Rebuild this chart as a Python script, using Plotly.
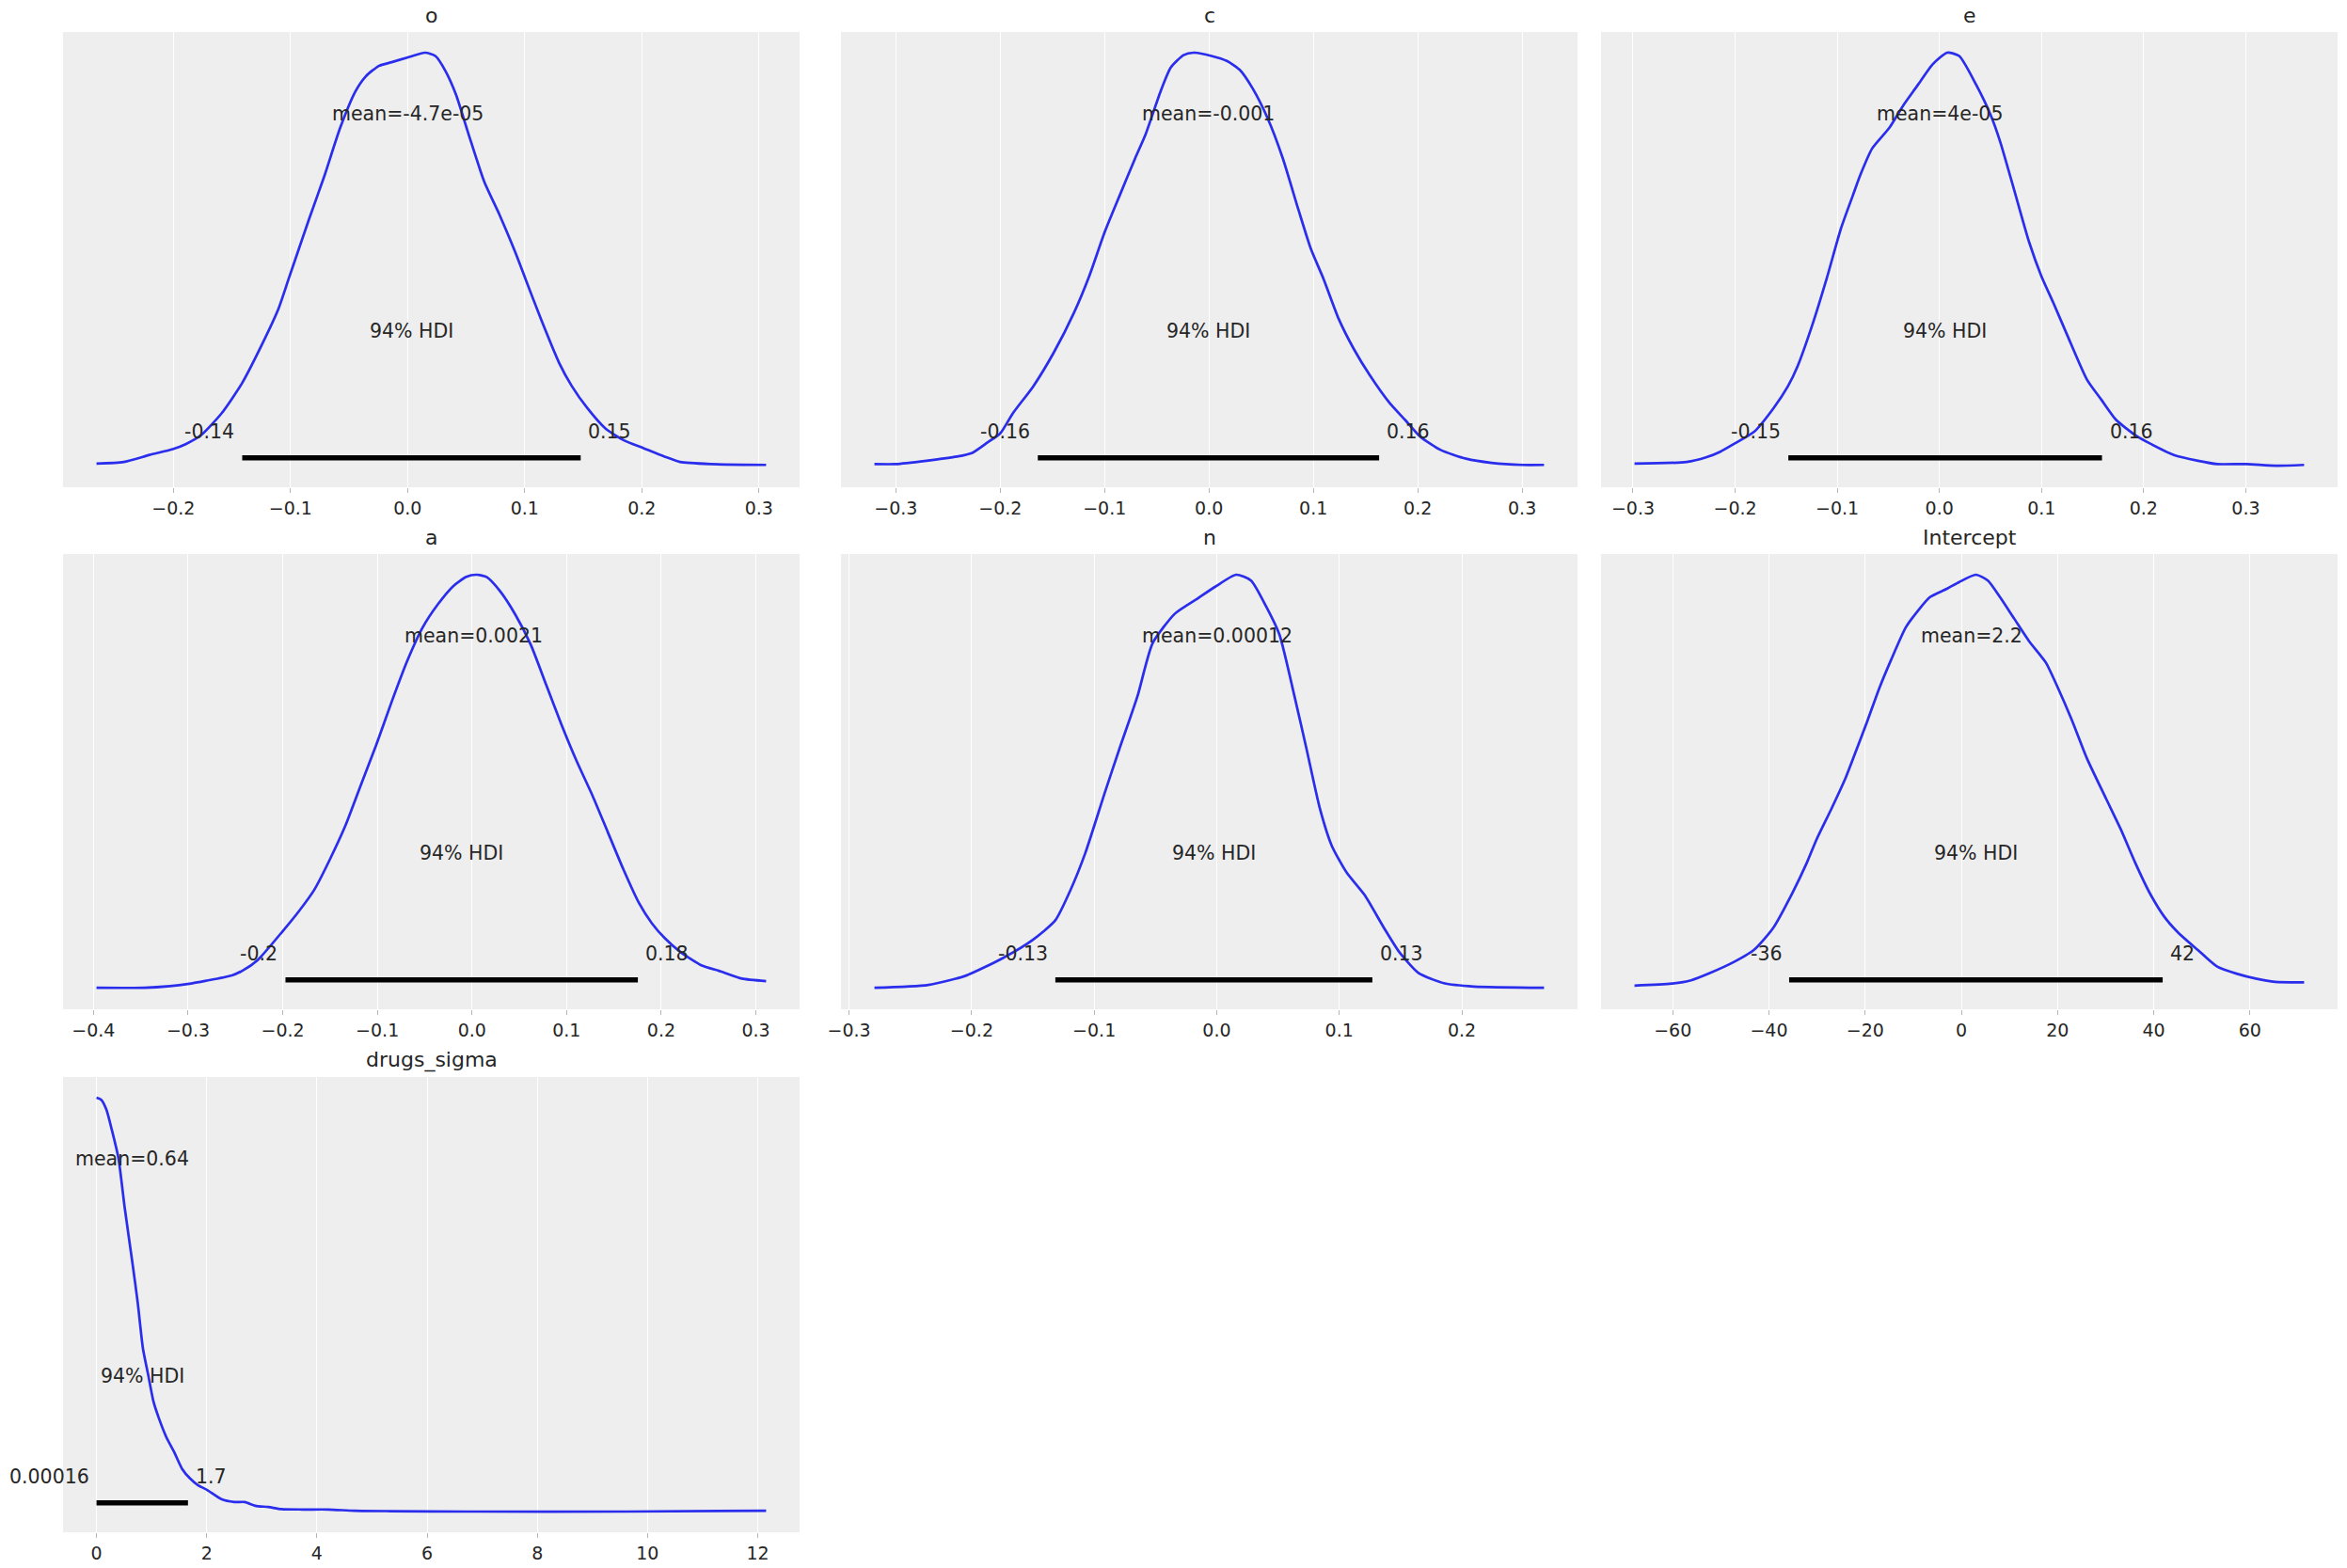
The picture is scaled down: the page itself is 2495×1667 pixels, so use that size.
import plotly.graph_objects as go

# ---------------- data ----------------
panel_names = ["o", "c", "e", "a", "n", "Intercept", "drugs_sigma"]

# KDE curves: x in data units, density as a fraction of each panel's peak
o_x = [-0.2656, -0.2423, -0.2203, -0.2005, -0.1895, -0.1763, -0.1587, -0.1412, -0.1236, -0.1104,
       -0.1016, -0.0840, -0.0708, -0.0576, -0.0444, -0.0356, -0.0246, -0.0136, -0.0004, 0.0150,
       0.0237, 0.0325, 0.0413, 0.0523, 0.0655, 0.0787, 0.0919, 0.1007, 0.1139, 0.1293,
       0.1403, 0.1535, 0.1689, 0.1843, 0.2018, 0.2194, 0.2326, 0.2590, 0.3061]
o_d = [0.007, 0.011, 0.028, 0.042, 0.054, 0.076, 0.129, 0.202, 0.299, 0.380,
       0.453, 0.599, 0.704, 0.818, 0.907, 0.943, 0.968, 0.977, 0.988, 1.000,
       0.992, 0.955, 0.899, 0.801, 0.688, 0.607, 0.518, 0.453, 0.356, 0.251,
       0.194, 0.141, 0.092, 0.064, 0.044, 0.024, 0.011, 0.006, 0.004]

c_x = [-0.3205, -0.3000, -0.2707, -0.2415, -0.2268, -0.2122, -0.2000, -0.1878, -0.1683, -0.1488,
       -0.1293, -0.1146, -0.1000, -0.0854, -0.0707, -0.0610, -0.0463, -0.0366, -0.0244, -0.0146,
       0.0024, 0.0171, 0.0293, 0.0415, 0.0561, 0.0707, 0.0854, 0.0976, 0.1098, 0.1244,
       0.1390, 0.1537, 0.1732, 0.1878, 0.2024, 0.2220, 0.2463, 0.2707, 0.3000, 0.3210]
c_d = [0.006, 0.006, 0.014, 0.024, 0.033, 0.058, 0.080, 0.129, 0.194, 0.275,
       0.372, 0.461, 0.566, 0.656, 0.745, 0.801, 0.907, 0.964, 0.994, 1.000,
       0.992, 0.980, 0.959, 0.915, 0.842, 0.745, 0.623, 0.526, 0.453, 0.356,
       0.283, 0.222, 0.153, 0.113, 0.072, 0.040, 0.019, 0.009, 0.004, 0.004]

e_x = [-0.2985, -0.2475, -0.2286, -0.2145, -0.2003, -0.1814, -0.1624, -0.1483, -0.1389, -0.1247,
       -0.1105, -0.0964, -0.0846, -0.0775, -0.0657, -0.0491, -0.0350, -0.0208, -0.0066, 0.0076,
       0.0194, 0.0359, 0.0501, 0.0595, 0.0737, 0.0879, 0.0997, 0.1115, 0.1256, 0.1445,
       0.1587, 0.1729, 0.1918, 0.2060, 0.2296, 0.2532, 0.2721, 0.3004, 0.3288, 0.3571]
e_d = [0.007, 0.011, 0.022, 0.036, 0.056, 0.084, 0.141, 0.194, 0.242, 0.340,
       0.453, 0.575, 0.656, 0.704, 0.769, 0.818, 0.874, 0.923, 0.972, 1.000,
       0.992, 0.923, 0.850, 0.785, 0.664, 0.542, 0.461, 0.396, 0.315, 0.210,
       0.161, 0.113, 0.076, 0.056, 0.028, 0.014, 0.006, 0.006, 0.002, 0.004]

a_x = [-0.3968, -0.3462, -0.3190, -0.3005, -0.2809, -0.2537, -0.2428, -0.2265, -0.2003, -0.1829,
       -0.1666, -0.1502, -0.1339, -0.1176, -0.1013, -0.0849, -0.0686, -0.0523, -0.0359, -0.0196,
       -0.0060, 0.0049, 0.0158, 0.0294, 0.0457, 0.0621, 0.0784, 0.0947, 0.1111, 0.1274,
       0.1437, 0.1600, 0.1764, 0.1900, 0.2036, 0.2199, 0.2417, 0.2635, 0.2852, 0.3108]
a_d = [0.002, 0.002, 0.006, 0.011, 0.019, 0.032, 0.043, 0.069, 0.138, 0.187,
       0.239, 0.312, 0.393, 0.491, 0.588, 0.693, 0.791, 0.872, 0.929, 0.973,
       0.995, 1.000, 0.994, 0.961, 0.904, 0.831, 0.734, 0.637, 0.547, 0.466,
       0.377, 0.288, 0.207, 0.158, 0.122, 0.089, 0.057, 0.041, 0.024, 0.018]

n_x = [-0.2793, -0.2354, -0.2049, -0.1744, -0.1500, -0.1317, -0.1195, -0.1073, -0.0915, -0.0793,
       -0.0646, -0.0524, -0.0341, -0.0159, -0.0012, 0.0159, 0.0280, 0.0402, 0.0512, 0.0634,
       0.0732, 0.0841, 0.0939, 0.1061, 0.1207, 0.1366, 0.1488, 0.1646, 0.1854, 0.2098, 0.2671]
n_d = [0.002, 0.009, 0.031, 0.074, 0.118, 0.165, 0.237, 0.327, 0.472, 0.580,
       0.707, 0.834, 0.906, 0.942, 0.971, 1.000, 0.986, 0.924, 0.855, 0.707,
       0.580, 0.436, 0.345, 0.280, 0.226, 0.146, 0.089, 0.038, 0.013, 0.005, 0.002]

i_x = [-67.94, -60.21, -56.20, -52.18, -47.16, -43.15, -39.14, -35.12, -32.11, -30.10,
       -27.09, -24.08, -22.08, -19.57, -17.06, -14.55, -11.54, -9.03, -6.52, -3.01,
       -0.50, 3.01, 5.52, 8.03, 11.04, 14.05, 17.56, 20.07, 23.08, 26.09,
       30.10, 33.12, 36.13, 39.14, 42.15, 45.16, 49.17, 53.19, 57.20, 61.21, 65.23, 71.25]
i_d = [0.007, 0.012, 0.020, 0.038, 0.065, 0.093, 0.146, 0.231, 0.304, 0.360,
       0.432, 0.508, 0.568, 0.645, 0.725, 0.795, 0.872, 0.912, 0.945, 0.965,
       0.981, 0.999, 0.985, 0.945, 0.892, 0.839, 0.787, 0.726, 0.645, 0.556,
       0.458, 0.385, 0.304, 0.231, 0.174, 0.134, 0.093, 0.053, 0.036, 0.024, 0.016, 0.015]

s_x = [0.0, 0.0853, 0.1801, 0.2749, 0.3981, 0.5118, 0.6540, 0.7488, 0.8436, 0.9384,
       1.0332, 1.1280, 1.2701, 1.4123, 1.5545, 1.6967, 1.8389, 2.0095, 2.2654, 2.5024,
       2.6919, 2.8815, 3.1185, 3.3555, 3.7346, 4.2085, 4.6825, 5.3460, 6.7678, 9.6114, 12.1517]
s_d = [1.000, 0.995, 0.971, 0.924, 0.854, 0.734, 0.599, 0.504, 0.393, 0.330,
       0.266, 0.227, 0.179, 0.143, 0.103, 0.080, 0.064, 0.052, 0.030, 0.023,
       0.023, 0.014, 0.011, 0.006, 0.005, 0.005, 0.002, 0.001, 0.000, 0.000, 0.002]

curves_x = [o_x, c_x, e_x, a_x, n_x, i_x, s_x]
curves_d = [o_d, c_d, e_d, a_d, n_d, i_d, s_d]

mean_values = [-4.7e-05, -0.001, 4e-05, 0.0021, 0.00012, 2.2, 0.64]
hdi_low = [-0.1412, -0.164, -0.1479, -0.1971, -0.1317, -35.8, 0.00016]
hdi_high = [0.1478, 0.163, 0.1592, 0.1753, 0.127, 41.85, 1.66]
hdi_label = "94% HDI"

tick_vals = [
    [-0.2, -0.1, 0.0, 0.1, 0.2, 0.3],
    [-0.3, -0.2, -0.1, 0.0, 0.1, 0.2, 0.3],
    [-0.3, -0.2, -0.1, 0.0, 0.1, 0.2, 0.3],
    [-0.4, -0.3, -0.2, -0.1, 0.0, 0.1, 0.2, 0.3],
    [-0.3, -0.2, -0.1, 0.0, 0.1, 0.2],
    [-60, -40, -20, 0, 20, 40, 60],
    [0, 2, 4, 6, 8, 10, 12],
]
tick_text = [
    ["\u22120.2", "\u22120.1", "0.0", "0.1", "0.2", "0.3"],
    ["\u22120.3", "\u22120.2", "\u22120.1", "0.0", "0.1", "0.2", "0.3"],
    ["\u22120.3", "\u22120.2", "\u22120.1", "0.0", "0.1", "0.2", "0.3"],
    ["\u22120.4", "\u22120.3", "\u22120.2", "\u22120.1", "0.0", "0.1", "0.2", "0.3"],
    ["\u22120.3", "\u22120.2", "\u22120.1", "0.0", "0.1", "0.2"],
    ["\u221260", "\u221240", "\u221220", "0", "20", "40", "60"],
    ["0", "2", "4", "6", "8", "10", "12"],
]

# ---------------- layout / style ----------------
W, H = 2495, 1667
col_dom = [(67 / W, 850 / W), (894 / W, 1677 / W), (1702 / W, 2485 / W)]
row_dom = [(1 - 518 / H, 1 - 34 / H), (1 - 1073 / H, 1 - 589 / H), (1 - 1629 / H, 1 - 1145 / H)]

FONT = "DejaVu Sans"
TXT = "#262626"
CURVE = "#2a2eec"
TITLE_SIZE = 22
LABEL_SIZE = 20.5
TICK_SIZE = 19

fig = go.Figure()
annotations = []
layout = {}

for i, name in enumerate(panel_names):
    k = i + 1
    r, c = divmod(i, 3)
    xs, ds = curves_x[i], curves_d[i]
    xref = "x" if k == 1 else f"x{k}"
    yref = "y" if k == 1 else f"y{k}"

    # matplotlib-like 5% margins
    xmin, xmax = min(xs), max(xs)
    span = xmax - xmin
    dmax = max(ds)
    top = 1.05 * dmax
    plot_height = top

    fig.add_trace(go.Scatter(x=xs, y=ds, mode="lines", xaxis=xref, yaxis=yref,
                             line=dict(color=CURVE, width=2.7, shape="spline", smoothing=0.6),
                             showlegend=False, hoverinfo="skip"))
    bar_y = 0.02 * plot_height
    fig.add_trace(go.Scatter(x=[hdi_low[i], hdi_high[i]], y=[bar_y, bar_y], mode="lines",
                             xaxis=xref, yaxis=yref, line=dict(color="black", width=5.4),
                             showlegend=False, hoverinfo="skip"))

    layout["xaxis" if k == 1 else f"xaxis{k}"] = dict(
        domain=list(col_dom[c]), anchor=yref,
        range=[xmin - 0.05 * span, xmax + 0.05 * span],
        tickvals=tick_vals[i], ticktext=tick_text[i],
        showgrid=True, gridcolor="white", gridwidth=1.3,
        zeroline=False, showline=False, automargin=False,
        ticks="outside", ticklen=5, tickwidth=1.3, tickcolor="#b5b5b5",
        tickfont=dict(family=FONT, size=TICK_SIZE, color=TXT),
    )
    layout["yaxis" if k == 1 else f"yaxis{k}"] = dict(
        domain=list(row_dom[r]), anchor=xref,
        range=[-0.05 * dmax, top], automargin=False,
        showticklabels=False, showgrid=False, zeroline=False, showline=False, ticks="",
    )

    font = dict(family=FONT, size=LABEL_SIZE, color=TXT)
    annotations.append(dict(x=mean_values[i], y=0.8 * plot_height, xref=xref, yref=yref,
                            text=f"mean={mean_values[i]:.2g}", showarrow=False,
                            xanchor="center", yanchor="bottom", yshift=-9, font=font))
    annotations.append(dict(x=(hdi_low[i] + hdi_high[i]) / 2, y=0.3 * plot_height, xref=xref, yref=yref,
                            text=hdi_label, showarrow=False,
                            xanchor="center", yanchor="bottom", yshift=-9, font=font))
    annotations.append(dict(x=hdi_low[i], y=0.07 * plot_height, xref=xref, yref=yref,
                            text=f"{hdi_low[i]:.2g}", showarrow=False,
                            xanchor="right", yanchor="bottom", yshift=-9, xshift=-6, font=font))
    annotations.append(dict(x=hdi_high[i], y=0.07 * plot_height, xref=xref, yref=yref,
                            text=f"{hdi_high[i]:.2g}", showarrow=False,
                            xanchor="left", yanchor="bottom", yshift=-9, xshift=6, font=font))
    annotations.append(dict(x=0.5, y=1, xref=f"{xref} domain", yref=f"{yref} domain",
                            text=name, showarrow=False, xanchor="center", yanchor="bottom",
                            yshift=3, font=dict(family=FONT, size=TITLE_SIZE, color=TXT)))

fig.update_layout(
    width=W, height=H, margin=dict(l=0, r=0, t=0, b=0, autoexpand=False),
    paper_bgcolor="white", plot_bgcolor="#eeeeee",
    annotations=annotations, showlegend=False,
    **layout,
)

fig.write_html("out.html",
               post_script="document.body.style.margin='0';document.body.style.padding='0';")
